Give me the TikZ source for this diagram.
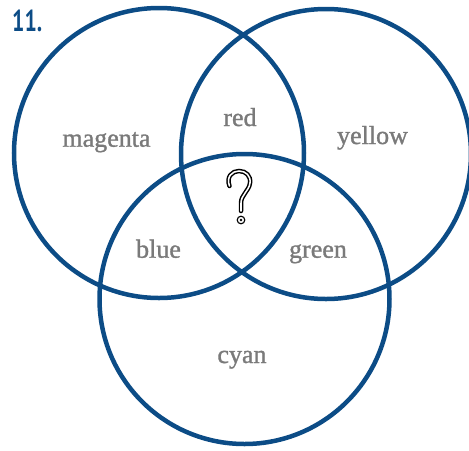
\documentclass[tikz,border=0pt]{standalone}
\usepackage{fontspec}
\setmainfont{Liberation Serif}
\newfontfamily\lblfont[FakeBold=1.2]{Liberation Serif}
\newfontfamily\numfont{PT Sans}
\usetikzlibrary{calc}
\definecolor{vennblue}{RGB}{12,76,134}
\definecolor{labelgray}{RGB}{122,122,122}

\begin{document}
\begin{tikzpicture}[x=0.025cm, y=-0.025cm,
  ring/.style={draw=vennblue, line width=3.2pt},
  lbl/.style={anchor=base, inner sep=0pt, text=labelgray, font=\lblfont\fontsize{18.5}{20}\selectfont},
  qmark/.style={draw=black, line width=1.05pt, double=white, double distance=1.1pt, line cap=round}]
  \useasboundingbox (0,0) rectangle (469,450);
  \clip (0,0) rectangle (469,450);

  % Centres
  \coordinate (cM) at (159,153);
  \coordinate (cY) at (326,154);
  \coordinate (cC) at (244.5,299);

  % Circles
  \draw[ring] (cM) circle[radius=145];
  \draw[ring] (cY) circle[radius=145];
  \draw[ring] (cC) circle[radius=145];

  % Number
  \node[anchor=base west, inner sep=0pt, text=vennblue, font=\numfont\bfseries\fontsize{21.5}{22}\selectfont, xscale=0.72] (num) at (12,31) {11.};

  % Regions
  \node[lbl] (magenta) at (106.5,146.7) {magenta};
  \node[lbl] (red) at (240,126) {red};
  \node[lbl] (yellow) at (372.5,144) {yellow};
  \node[lbl] (blue) at (158.5,257.7) {blue};
  \node[lbl] (green) at (318,257.7) {green};
  \node[lbl] (cyan) at (242,363) {cyan};

  % Question mark
  \draw[qmark] (229.5,186) .. controls (226,177) and (232,171) .. (239,171)
    .. controls (246,171) and (251,176) .. (250,183)
    .. controls (249,191) and (241,195) .. (241,203) -- (241,211);
  \coordinate (qdot) at (241,220);
  \draw[black, line width=0.8pt] (qdot) circle[radius=3.8];
  \fill[black] (qdot) circle[radius=1.4];
\end{tikzpicture}
\end{document}
